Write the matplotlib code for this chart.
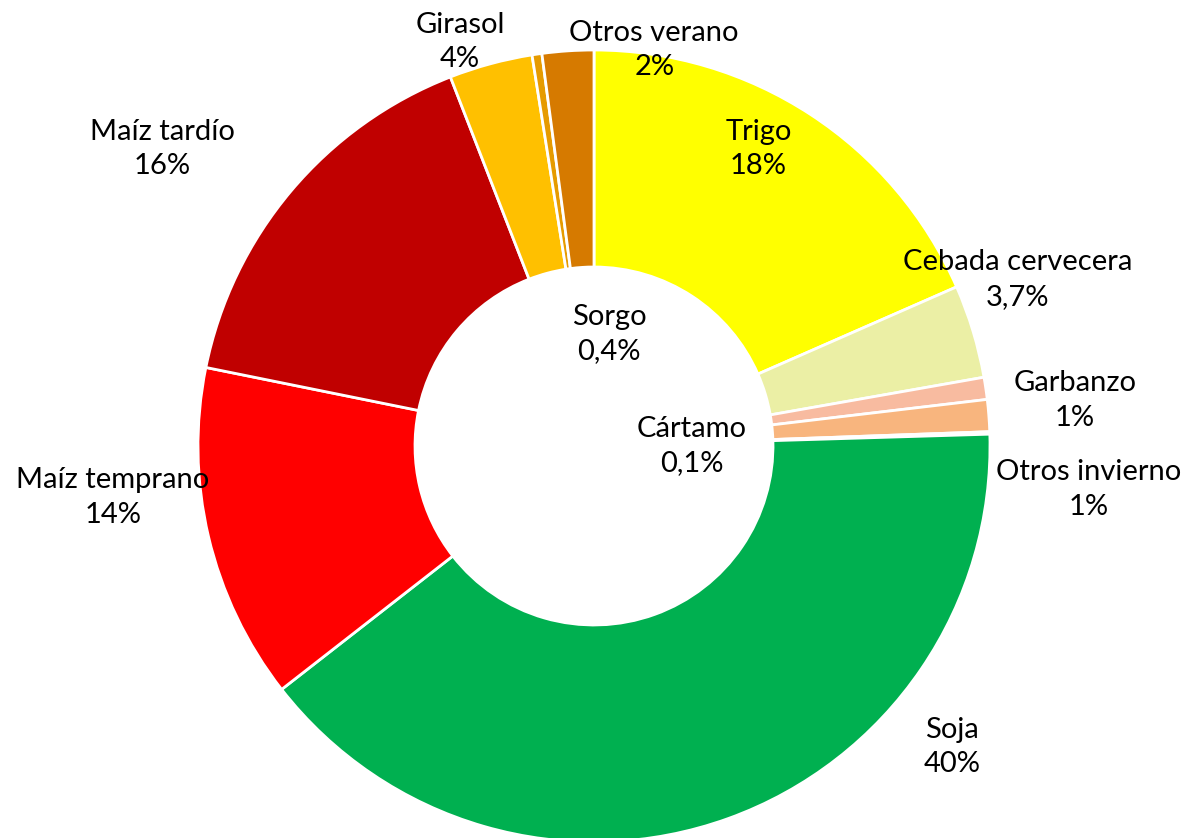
import matplotlib.pyplot as plt

# datos (% de superficie)
cultivos = ['Trigo', 'Cebada cervecera', 'Garbanzo', 'Otros invierno', 'Cártamo',
            'Soja', 'Maíz temprano', 'Maíz tardío', 'Girasol', 'Sorgo', 'Otros verano']
valores = [18.4, 3.8, 0.9, 1.3, 0.1, 39.9, 13.7, 15.9, 3.4, 0.4, 2.1]
etiquetas = ['18%', '3,7%', '1%', '1%', '0,1%', '40%', '14%', '16%', '4%', '0,4%', '2%']
colores = ['#FFFF00', '#EBEFA5', '#F8BBA0', '#F8B57E', '#F4B183',
           '#00B050', '#FF0000', '#C00000', '#FFC000', '#E69B00', '#D67A00']

# posicion de cada etiqueta (unidades del radio)
pos_etiquetas = [(0.415, 0.75), (1.07, 0.42), (1.215, 0.115), (1.25, -0.11), (0.247, 0.0),
                 (0.904, -0.76), (-1.215, -0.13), (-1.09, 0.75), (-0.338, 1.02),
                 (0.038, 0.283), (0.152, 1.0)]

fig = plt.figure(figsize=(11.86, 8.38), dpi=100)
ax = fig.add_axes([0, 0, 1, 1])

ax.pie(valores, colors=colores, startangle=90, counterclock=False, radius=1.0,
       wedgeprops=dict(width=0.548, edgecolor='white', linewidth=2))

for nombre, et, (x, y) in zip(cultivos, etiquetas, pos_etiquetas):
    ax.text(x, y, nombre + '\n' + et, ha='center', va='center', fontsize=21,
            family='Lato', linespacing=1.42)

ax.set_xlim(-594 / 396, (1186 - 594) / 396)
ax.set_ylim(-(838 - 446) / 396, 446 / 396)
ax.set_aspect('equal')
ax.axis('off')

fig.savefig('out.png', dpi=100)
